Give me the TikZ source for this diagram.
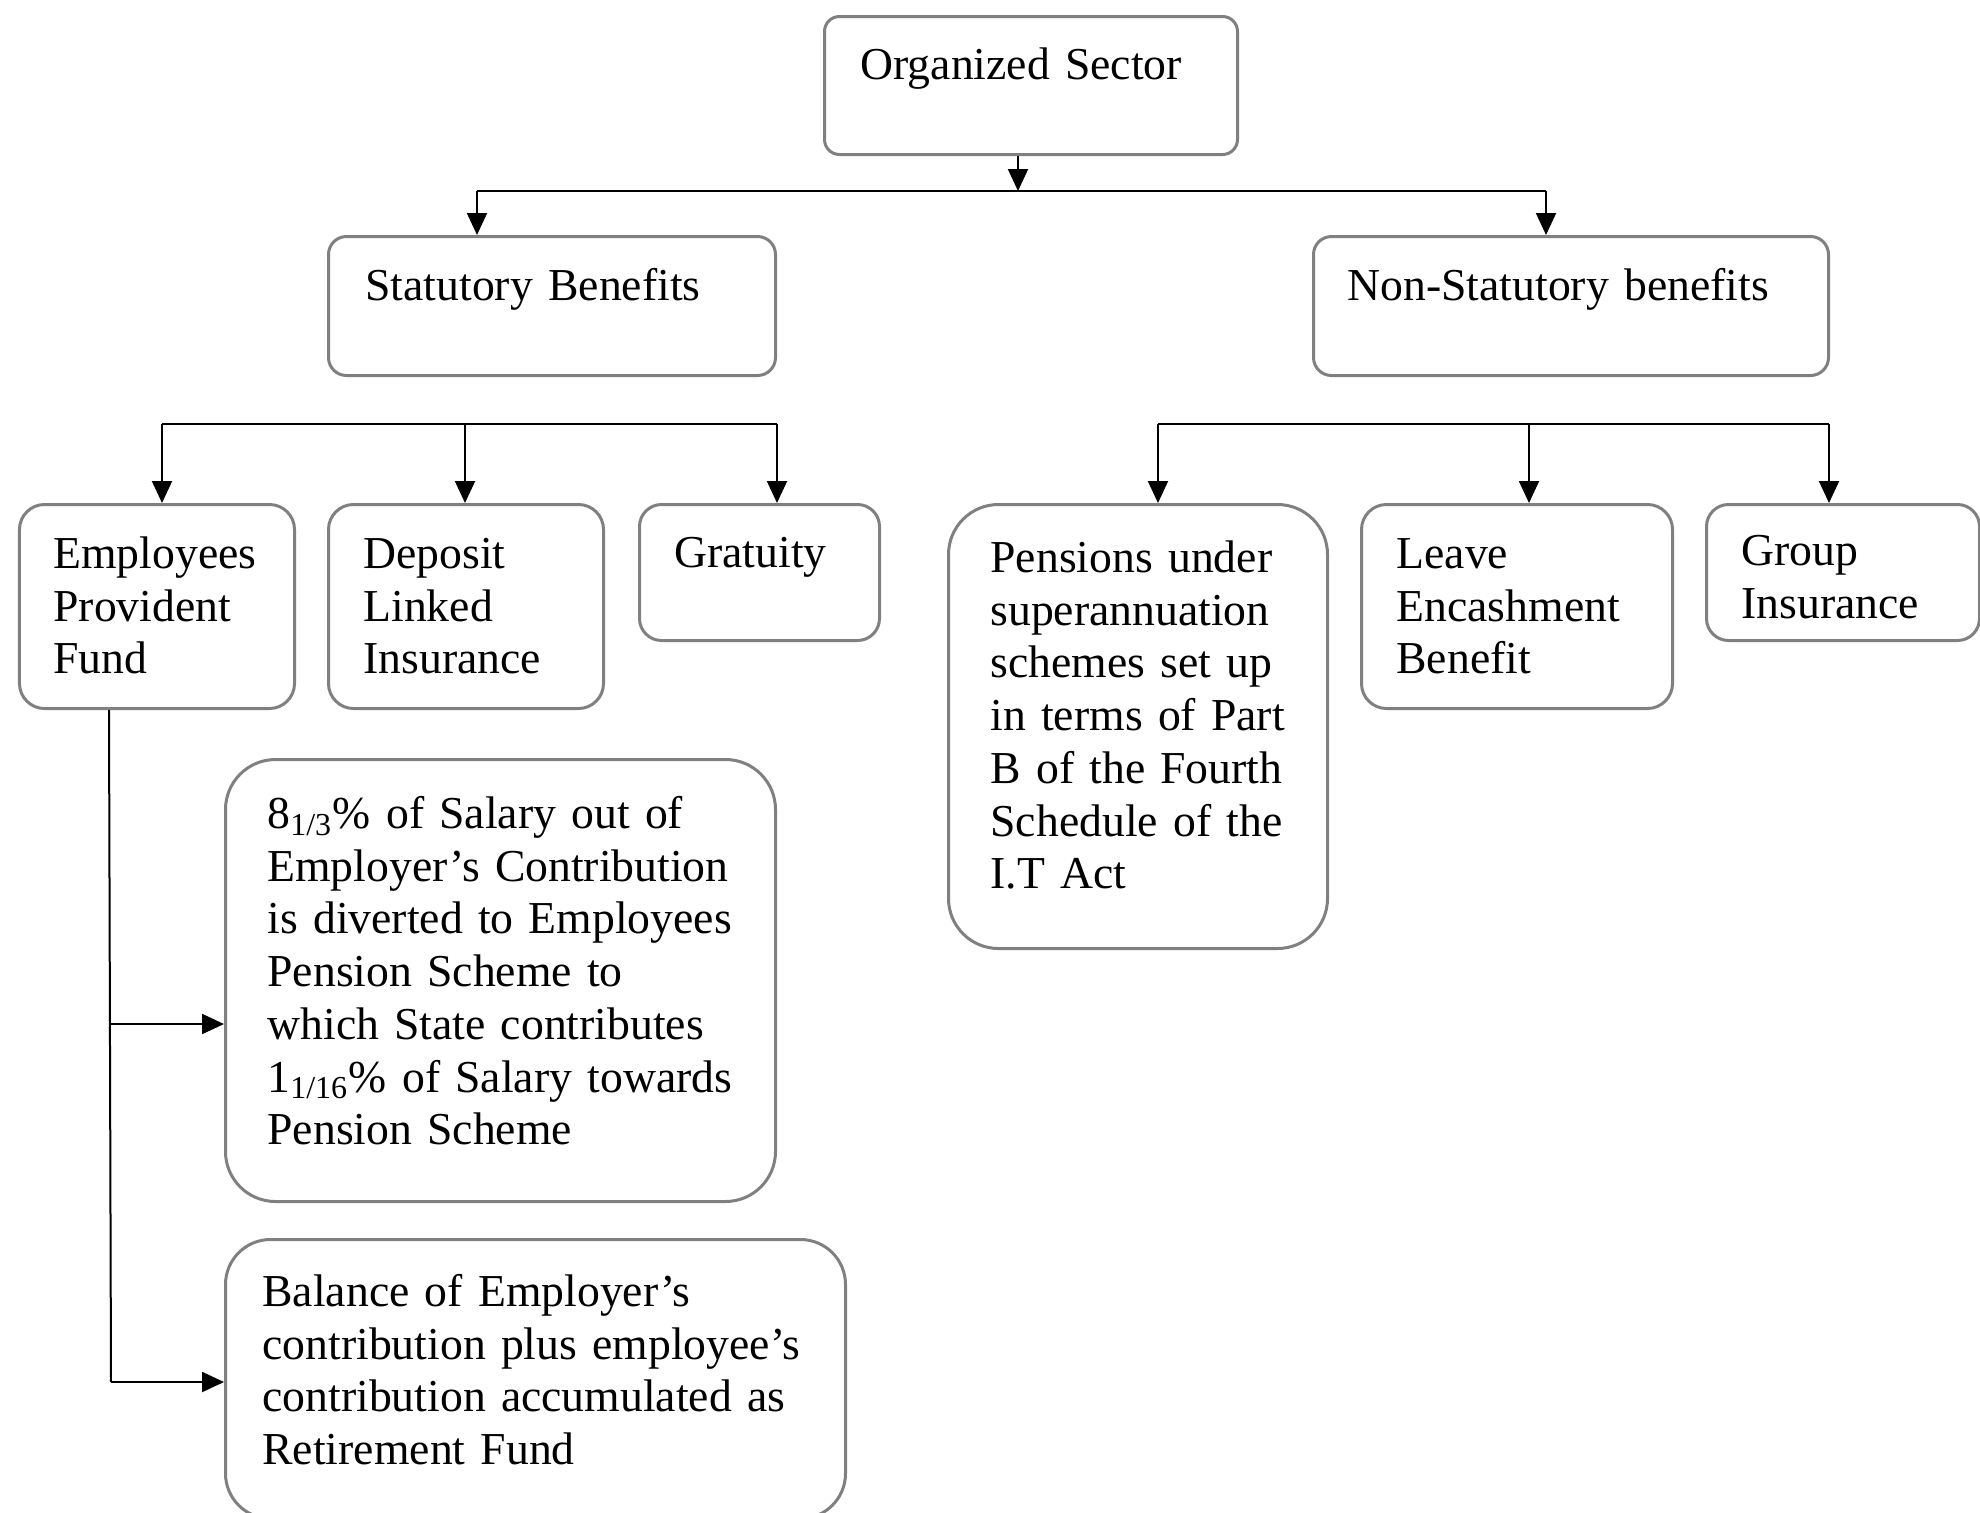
\documentclass[tikz,border=0pt]{standalone}
\usepackage{fontspec}
\setmainfont{Liberation Serif}
\usetikzlibrary{arrows.meta}

\tikzset{
  >={Triangle[length=0.22cm,width=0.2cm]},
  box/.style={draw=gray, line width=0.03cm, anchor=north west, align=left,
    inner ysep=0pt, font=\fontsize{13}{15}\selectfont},
  link/.style={line width=0.02cm},
}

\begin{document}
\begin{tikzpicture}
\useasboundingbox (0,0) rectangle (19.80,-15.12);

% Top
\node[box, rounded corners=0.15cm, inner xsep=0.36cm, text width=3.41cm,
  text height=0.63cm, text depth=0.75cm] (org) at (8.23,-0.15) {Organized Sector};

% Second level
\node[box, rounded corners=0.18cm, inner xsep=0.37cm, text width=3.73cm,
  text height=0.64cm, text depth=0.75cm] (stat) at (3.27,-2.35) {Statutory Benefits};
\node[box, rounded corners=0.18cm, inner xsep=0.34cm, text width=4.47cm,
  text height=0.64cm, text depth=0.75cm] (nonstat) at (13.12,-2.35) {Non-Statutory benefits};

% Third level
\node[box, rounded corners=0.25cm, inner xsep=0.34cm, text width=2.07cm,
  text height=0.64cm, text depth=1.40cm] (epf) at (0.18,-5.03) {Employees\\ Provident\\ Fund};
\node[box, rounded corners=0.25cm, inner xsep=0.35cm, text width=2.05cm,
  text height=0.64cm, text depth=1.40cm] (dli) at (3.27,-5.03) {Deposit\\ Linked\\ Insurance};
\node[box, rounded corners=0.22cm, inner xsep=0.35cm, text width=1.70cm,
  text height=0.63cm, text depth=0.73cm] (grat) at (6.38,-5.03) {Gratuity};
\node[box, rounded corners=0.5cm, inner xsep=0.42cm, text width=2.95cm,
  text height=0.68cm, text depth=3.76cm] (pens) at (9.47,-5.03)
  {Pensions under\\ superannuation\\ schemes set up\\ in terms of Part\\ B of the Fourth\\ Schedule of the\\ I.T Act};
\node[box, rounded corners=0.25cm, inner xsep=0.35cm, text width=2.41cm,
  text height=0.64cm, text depth=1.40cm] (leave) at (13.60,-5.03) {Leave\\ Encashment\\ Benefit};
\node[box, rounded corners=0.22cm, inner xsep=0.35cm, text width=2.03cm,
  text height=0.61cm, text depth=0.75cm] (group) at (17.05,-5.03) {Group\\ Insurance};

% Under EPF
\node[box, rounded corners=0.5cm, inner xsep=0.42cm, text width=4.66cm,
  text height=0.69cm, text depth=3.73cm] (pct) at (2.24,-7.58)
  {8\textsubscript{1/3}\% of Salary out of\\ Employer’s Contribution\\ is diverted to Employees\\ Pension Scheme to\\ which State contributes\\ 1\textsubscript{1/16}\% of Salary towards\\ Pension Scheme};
\node[box, rounded corners=0.45cm, inner xsep=0.37cm, text width=5.46cm,
  text height=0.67cm, text depth=2.12cm] (bal) at (2.24,-12.38)
  {Balance of Employer’s\\ contribution plus employee’s\\ contribution accumulated as\\ Retirement Fund};

% Connectors
\coordinate (split) at (10.18,-1.91);
\coordinate (split-l) at (4.77,-1.91);
\coordinate (split-r) at (15.46,-1.91);
\draw[link,->] (org.south -| split) -- (split);
\draw[link] (split-l) -- (split-r);
\draw[link,->] (split-l) -- (split-l |- stat.north);
\draw[link,->] (split-r) -- (split-r |- nonstat.north);

\coordinate (sb-l) at (1.62,-4.24);
\coordinate (sb-m) at (4.65,-4.24);
\coordinate (sb-r) at (7.77,-4.24);
\draw[link] (sb-l) -- (sb-r);
\foreach \c/\n in {sb-l/epf, sb-m/dli, sb-r/grat}
  \draw[link,->] (\c) -- (\c |- \n.north);

\coordinate (nb-l) at (11.58,-4.24);
\coordinate (nb-m) at (15.29,-4.24);
\coordinate (nb-r) at (18.29,-4.24);
\draw[link] (nb-l) -- (nb-r);
\foreach \c/\n in {nb-l/pens, nb-m/leave, nb-r/group}
  \draw[link,->] (\c) -- (\c |- \n.north);

\coordinate (fork) at (1.09,-10.24);
\coordinate (stem) at (1.11,-13.82);
\draw[link] (epf.south -| fork) -- (stem);
\draw[link,->] (fork) -- (fork -| pct.west);
\draw[link,->] (stem) -- (stem -| bal.west);
\end{tikzpicture}
\end{document}
